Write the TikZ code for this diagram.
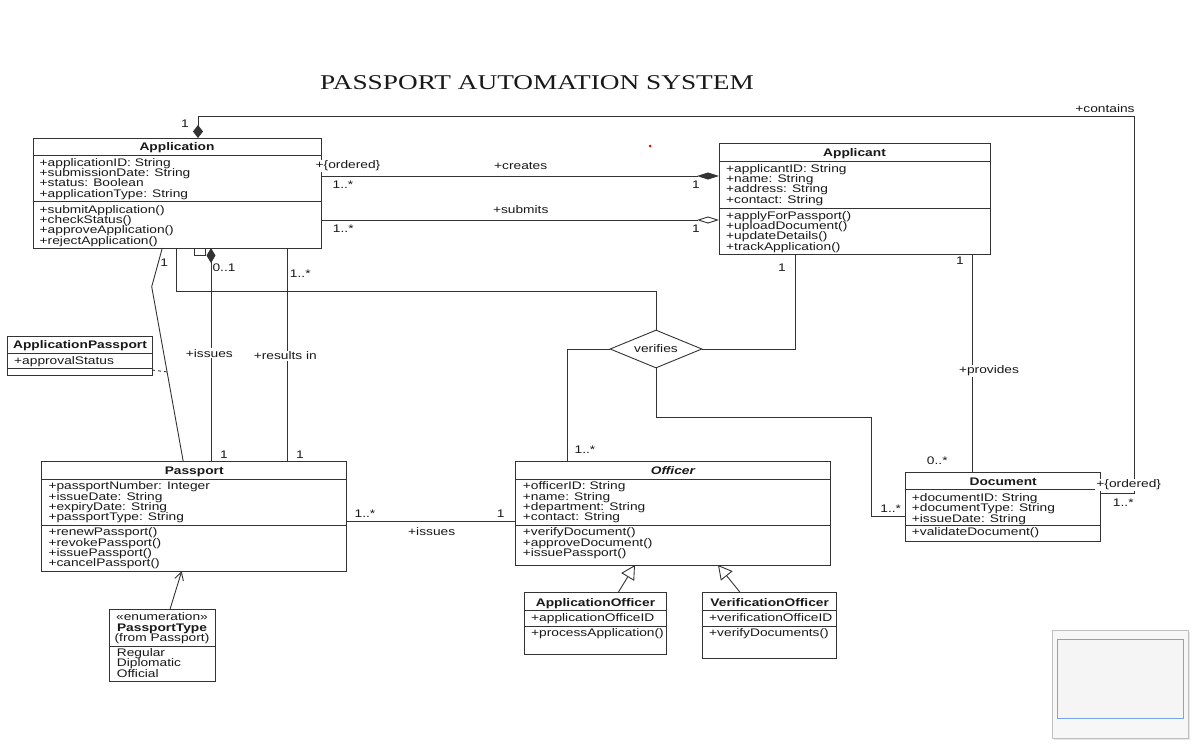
\documentclass[tikz,border=0pt]{standalone}
\usepackage{fontspec}
\setmainfont{Liberation Sans}
\newfontfamily\umlfont[FakeStretch=1.25]{Liberation Sans}
\newfontfamily\titlefont[FakeStretch=1.3]{Liberation Serif}
\usetikzlibrary{arrows.meta,shapes.geometric,calc}
\newcommand\uf{\umlfont\fontsize{11pt}{12pt}\selectfont}
\newcommand\umltext[4]{\foreach \t [count=\i from 0] in {#4}{\node[txt, name=#1-\i] at (#2,{#3+\i*10.4}) {\t};}}
\begin{document}
\begin{tikzpicture}[x=1pt,y=-1pt,
 box/.style={draw=black!80, line width=1pt, fill=white, anchor=north west, inner sep=0pt, outer sep=0pt},
 txt/.style={anchor=base west, inner sep=0pt, font=\uf, text=black!90},
 ttl/.style={anchor=base, inner sep=0pt, font=\uf\bfseries, text=black!90},
 lbl/.style={inner sep=1pt, font=\uf, fill=white, text=black!90},
 conn/.style={draw=black!80, line width=0.9pt},
 sepl/.style={draw=black!80, line width=0.9pt}]
\useasboundingbox[fill=white] (0,0) rectangle (1200,745);

% title
\node[font=\titlefont\fontsize{21pt}{24pt}\selectfont, text=black!90, inner sep=0pt] (title) at (537,83) {PASSPORT AUTOMATION SYSTEM};
\fill[red] (650,146) circle (1.5);

% ---------- classes ----------
% Application
\node[box, minimum width=288pt, minimum height=110pt] (app) at (33,138) {};
\draw[sepl] (app.west |- 0,155) -- (app.east |- 0,155);
\draw[sepl] (app.west |- 0,201) -- (app.east |- 0,201);
\node[ttl] (app-t) at (177,150.7) {Application};
\umltext{appa}{39.5}{166}{+applicationID: String,+submissionDate: String,+status: Boolean,+applicationType: String}
\umltext{appm}{39.5}{213}{+submitApplication(),+checkStatus(),+approveApplication(),+rejectApplication()}
\node[draw=black!80, line width=0.9pt, fill=white, inner sep=0pt, minimum width=10.7pt, minimum height=7pt, anchor=north west] (sq) at (194.3,248) {};

% Applicant
\node[box, minimum width=271pt, minimum height=111pt] (appl) at (719,143) {};
\draw[sepl] (appl.west |- 0,161) -- (appl.east |- 0,161);
\draw[sepl] (appl.west |- 0,208) -- (appl.east |- 0,208);
\node[ttl] (appl-t) at (854.5,156.7) {Applicant};
\umltext{appla}{726}{172}{+applicantID: String,+name: String,+address: String,+contact: String}
\umltext{applm}{726}{219}{+applyForPassport(),+uploadDocument(),+updateDetails(),+trackApplication()}

% ApplicationPassport
\node[box, minimum width=145pt, minimum height=39pt] (ap) at (7,336) {};
\draw[sepl] (ap.west |- 0,353) -- (ap.east |- 0,353);
\draw[sepl] (ap.west |- 0,368) -- (ap.east |- 0,368);
\node[ttl] (ap-t) at (80,348) {ApplicationPassport};
\umltext{apa}{14}{364}{+approvalStatus}

% Passport
\node[box, minimum width=305pt, minimum height=109.5pt] (pass) at (41.7,461.7) {};
\draw[sepl] (pass.west |- 0,479) -- (pass.east |- 0,479);
\draw[sepl] (pass.west |- 0,525) -- (pass.east |- 0,525);
\node[ttl] (pass-t) at (194.2,474) {Passport};
\umltext{passa}{48.3}{489.7}{+passportNumber: Integer,+issueDate: String,+expiryDate: String,+passportType: String}
\umltext{passm}{48.3}{535.7}{+renewPassport(),+revokePassport(),+issuePassport(),+cancelPassport()}

% Officer
\node[box, minimum width=314.3pt, minimum height=103.3pt] (off) at (515.7,461.7) {};
\draw[sepl] (off.west |- 0,479) -- (off.east |- 0,479);
\draw[sepl] (off.west |- 0,525) -- (off.east |- 0,525);
\node[ttl, font=\uf\bfseries\itshape] (off-t) at (672.9,474) {Officer};
\umltext{offa}{522.7}{489.7}{+officerID: String,+name: String,+department: String,+contact: String}
\umltext{offm}{522.7}{535.7}{+verifyDocument(),+approveDocument(),+issuePassport()}

% ApplicationOfficer
\node[box, minimum width=142.4pt, minimum height=61.7pt] (aoff) at (524.3,592.3) {};
\draw[sepl] (aoff.west |- 0,610) -- (aoff.east |- 0,610);
\draw[sepl] (aoff.west |- 0,626) -- (aoff.east |- 0,626);
\node[ttl] (aoff-t) at (595.5,606.3) {ApplicationOfficer};
\umltext{aoffa}{531}{621.3}{+applicationOfficeID}
\umltext{aoffm}{531}{636.7}{+processApplication()}

% VerificationOfficer
\node[box, minimum width=134pt, minimum height=66pt] (voff) at (702.7,592.3) {};
\draw[sepl] (voff.west |- 0,610) -- (voff.east |- 0,610);
\draw[sepl] (voff.west |- 0,626) -- (voff.east |- 0,626);
\node[ttl] (voff-t) at (769.7,606.3) {VerificationOfficer};
\umltext{voffa}{709}{621.3}{+verificationOfficeID}
\umltext{voffm}{709}{636.7}{+verifyDocuments()}

% Document
\node[box, minimum width=195pt, minimum height=68.7pt] (doc) at (905.7,472.3) {};
\draw[sepl] (doc.west |- 0,489.3) -- (doc.east |- 0,489.3);
\draw[sepl] (doc.west |- 0,525.7) -- (doc.east |- 0,525.7);
\node[ttl] (doc-t) at (1003.2,485.7) {Document};
\umltext{doca}{911.7}{501.3}{+documentID: String,+documentType: String,+issueDate: String}
\umltext{docm}{911.7}{535.7}{+validateDocument()}

% PassportType enumeration
\node[box, minimum width=106pt, minimum height=72.4pt] (ptype) at (109,609.3) {};
\draw[sepl] (ptype.west |- 0,646) -- (ptype.east |- 0,646);
\node[ttl, font=\uf] (pt-s) at (162,620.7) {«enumeration»};
\node[ttl] (pt-t) at (162,631.1) {PassportType};
\node[ttl, font=\uf] (pt-f) at (162,641.5) {(from Passport)};
\umltext{ptl}{116.7}{656.3}{Regular,Diplomatic,Official}

% verifies diamond
\node[diamond, aspect=2.4, draw=black!80, line width=0.9pt, fill=white, inner sep=0pt, minimum width=92pt, minimum height=38pt, font=\uf, text=black!90] (vd) at (656,349) {verifies};

% ---------- connectors ----------
% creates
\draw[conn, -{Diamond[length=22pt,width=7pt]}] (app.east |- 0,176) -- (appl.west |- 0,176);
% submits
\draw[conn, -{Diamond[open,length=22pt,width=7pt]}] (app.east |- 0,220) -- (appl.west |- 0,220);
% contains
\coordinate (c1) at (1134,116);
\draw[conn, {Diamond[length=13pt,width=10pt]}-] (app.north -| 198,0) |- (c1) |- (doc.east |- 0,493);
% issues (aggregation)
\draw[conn, {Diamond[length=15pt,width=9pt]}-] (app.south -| 211,0) -- (pass.north -| 211,0);
% results in
\draw[conn] (app.south -| 287,0) -- (pass.north -| 287,0);
% association with class ApplicationPassport
\coordinate (bend) at (151.7,286.7);
\draw[conn] (app.south -| 162.3,0) -- (bend) -- (pass.north -| 183.3,0);
\path (bend) -- (pass.north -| 183.3,0) coordinate[pos=0.487] (acmid);
\draw[conn, dash pattern=on 3pt off 3pt] (ap.east |- 0,370) -- (acmid);
% verifies
\draw[conn] (app.south -| 176.7,0) |- (vd.north |- 0,291.7) -- (vd.north);
\draw[conn] (vd.east) -| (appl.south -| 795,0);
\draw[conn] (vd.west) -| (off.north -| 567,0);
\coordinate (v1) at (871,417);
\draw[conn] (vd.south) |- (v1) |- (doc.west |- 0,516);
% provides
\draw[conn] (appl.south -| 972.7,0) -- (doc.north -| 972.7,0);
% officer issues passport
\draw[conn] (pass.east |- 0,521.7) -- (off.west |- 0,521.7);
% generalizations
\draw[conn, -{Triangle[open,length=14pt,width=15pt]}] (aoff.north -| 618.3,0) -- (off.south -| 635,0);
\draw[conn, -{Triangle[open,length=14pt,width=15pt]}] (voff.north -| 740,0) -- (off.south -| 718,0);
% enumeration
\draw[conn, -{Straight Barb[length=8pt,width=9pt]}] (ptype.north -| 170,0) -- (pass.south -| 181.7,0);

% ---------- labels ----------
\node[lbl] (l1) at (348,166) {+\{ordered\}};
\node[lbl] (l2) at (343,184.3) {1..*};
\node[lbl] (l3) at (520.7,166) {+creates};
\node[lbl] (l4) at (696,185) {1};
\node[lbl] (l5) at (520.7,210) {+submits};
\node[lbl] (l6) at (343.3,228.3) {1..*};
\node[lbl] (l7) at (696,228.3) {1};
\node[lbl] (l8) at (1105,109) {+contains};
\node[lbl] (l9) at (185,123.3) {1};
\node[lbl] (l10) at (1128.7,485) {+\{ordered\}};
\node[lbl] (l11) at (1123.3,502.7) {1..*};
\node[lbl, fill=none] (l12) at (164.3,262.7) {1};
\node[lbl] (l13) at (224,267.7) {0..1};
\node[lbl] (l14) at (300.3,273.3) {1..*};
\node[lbl] (l15) at (209.3,353.3) {+issues};
\node[lbl] (l16) at (285.3,356) {+results in};
\node[lbl] (l17) at (224,454.3) {1};
\node[lbl] (l18) at (300,454.3) {1};
\node[lbl] (l19) at (782,267.7) {1};
\node[lbl] (l20) at (585,449.3) {1..*};
\node[lbl] (l21) at (890.7,508.3) {1..*};
\node[lbl] (l22) at (960,260.7) {1};
\node[lbl] (l23) at (989,371) {+provides};
\node[lbl] (l24) at (937.3,460.5) {0..*};
\node[lbl] (l25) at (365,514) {1..*};
\node[lbl] (l26) at (431.7,531.7) {+issues};
\node[lbl] (l27) at (500.7,514) {1};

% ---------- overview thumbnail ----------
\fill[black!10] (1053.7,632) rectangle (1190.3,740.3);
\draw[black!25, fill=black!3] (1051.7,630) rectangle (1188.3,738.3);
\draw[line width=1pt, draw={rgb,255:red,120;green,165;blue,230}, fill=black!4] (1057.3,639) rectangle (1183.3,718.3);
\end{tikzpicture}
\end{document}
